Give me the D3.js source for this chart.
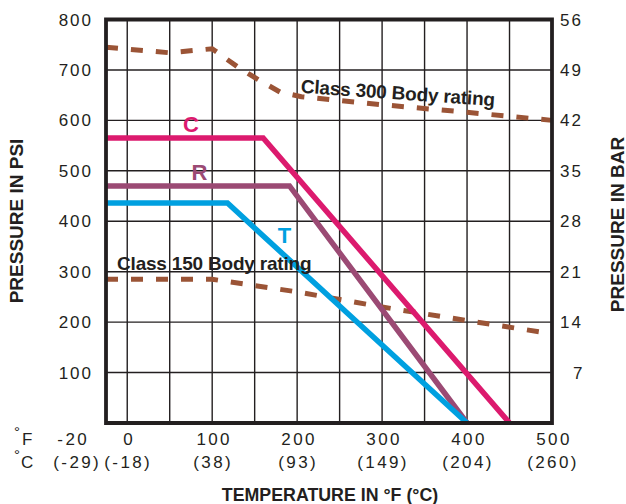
<!DOCTYPE html>
<html><head><meta charset="utf-8">
<script src="https://cdn.jsdelivr.net/npm/d3@7"></script>
<style>
html,body{margin:0;padding:0;background:#fff;}
svg{display:block;}
</style>
</head><body>
<svg id="chart" width="626" height="504"></svg>
<script>
// ---- data ----
const tempTicksF = [0, 100, 200, 300, 400, 500];
const tempTicksC = ["(-18)", "(38)", "(93)", "(149)", "(204)", "(260)"];
const extraTickF = "-20";
const extraTickC = "(-29)";
const psiTicks = [100, 200, 300, 400, 500, 600, 700, 800];
const barTicks = [7, 14, 21, 28, 35, 42, 49, 56];
const gridX = [0, 50, 100, 150, 200, 250, 300, 350, 400, 450];
const gridY = [100, 200, 300, 400, 500, 600, 700];

// seat ratings: [°F, psi]
const seatC = [[-25, 565], [160, 565], [450, 0]];
const seatR = [[-25, 470], [191, 470], [400, 0]];
const seatT = [[-25, 436], [118, 436], [400, 0]];
// body ratings: [°F, psi]
const class300 = [[-25, 745], [50, 734], [100, 742], [130, 706], [155, 680], [180, 656], [205, 647], [300, 631], [400, 616], [500, 600]];
const class150 = [[-25, 285], [100, 285], [200, 260], [300, 230], [400, 203], [500, 177]];

// ---- layout ----
const svg = d3.select("#chart");
const L = 106, R = 552, T = 19.5, B = 423;
const x = d3.scaleLinear().domain([-25, 500]).range([L, R]);
const y = d3.scaleLinear().domain([0, 800]).range([B, T]);
const yBar = d3.scaleLinear().domain([0, 56]).range([B, T]);
const font = "'Liberation Sans', Arial, Helvetica, sans-serif";
const ink = "#231f20";

// grid
svg.append("g").selectAll("line").data(gridX).join("line")
  .attr("x1", d => x(d)).attr("x2", d => x(d)).attr("y1", T).attr("y2", B)
  .attr("stroke", ink).attr("stroke-width", 1.4);
svg.append("g").selectAll("line").data(gridY).join("line")
  .attr("x1", L).attr("x2", R).attr("y1", d => y(d)).attr("y2", d => y(d))
  .attr("stroke", ink).attr("stroke-width", 1.4);

const line = d3.line().x(d => x(d[0])).y(d => y(d[1]));

// body rating dashed lines
[class300, class150].forEach(data => {
  svg.append("path").datum(data).attr("d", line)
    .attr("fill", "none").attr("stroke", "#9b5436").attr("stroke-width", 5)
    .attr("stroke-dasharray", "12,13");
});

// seat lines
[[seatC, "#dc1a6e"], [seatR, "#9b4a74"], [seatT, "#00a0e0"]].forEach(([data, c]) => {
  svg.append("path").datum(data).attr("d", line)
    .attr("fill", "none").attr("stroke", c).attr("stroke-width", 5.5)
    .attr("stroke-linejoin", "miter");
});

// frame
svg.append("path")
  .attr("d", `M${L},${T}H${R}V${B}H${L}Z`)
  .attr("fill", "none").attr("stroke", ink).attr("stroke-width", 3.8);

// left ticks
svg.append("g").selectAll("text").data(psiTicks).join("text")
  .attr("x", 93).attr("y", d => y(d) + 6).attr("text-anchor", "end")
  .attr("font-family", font).attr("font-size", 17).attr("letter-spacing", 2)
  .attr("fill", ink).text(d => d);
// right ticks
svg.append("g").selectAll("text").data(barTicks).join("text")
  .attr("x", 560).attr("y", d => yBar(d) + 6)
  .attr("dx", d => d < 10 ? 13 : 0)
  .attr("font-family", font).attr("font-size", 17).attr("letter-spacing", 2)
  .attr("fill", ink).text(d => d);

// bottom ticks
const gF = svg.append("g").attr("font-family", font).attr("font-size", 17)
  .attr("letter-spacing", 2.4).attr("fill", ink).attr("text-anchor", "middle");
gF.selectAll("text.f").data(tempTicksF).join("text").attr("class", "f")
  .attr("x", d => x(d) + 2).attr("y", 445).text(d => d);
gF.selectAll("text.c").data(tempTicksC).join("text").attr("class", "c")
  .attr("x", (d, i) => x(tempTicksF[i]) + 1).attr("y", 468).text(d => d);
gF.append("text").attr("x", x(-20) - 37).attr("y", 445).text(extraTickF);
gF.append("text").attr("x", x(-20) - 33).attr("y", 468).text(extraTickC);
// unit labels
const gU = svg.append("g").attr("font-family", font).attr("fill", ink);
gU.append("text").attr("x", 14).attr("y", 437).attr("font-size", 15).text("°");
gU.append("text").attr("x", 22).attr("y", 445).attr("font-size", 17).text("F");
gU.append("text").attr("x", 14).attr("y", 460).attr("font-size", 15).text("°");
gU.append("text").attr("x", 21).attr("y", 468).attr("font-size", 17).text("C");

// axis titles
svg.append("text").attr("transform", "translate(23,221) rotate(-90)")
  .attr("text-anchor", "middle").attr("font-family", font).attr("font-weight", "bold")
  .attr("font-size", 19).attr("fill", ink).text("PRESSURE IN BAR".replace("BAR", "PSI"));
svg.append("text").attr("transform", "translate(623.5,224.5) rotate(-90)")
  .attr("text-anchor", "middle").attr("font-family", font).attr("font-weight", "bold")
  .attr("font-size", 19).attr("fill", ink).text("PRESSURE IN BAR");
svg.append("text").attr("x", 330).attr("y", 501)
  .attr("text-anchor", "middle").attr("font-family", font).attr("font-weight", "bold")
  .attr("font-size", 17.8).attr("fill", ink).text("TEMPERATURE IN °F (°C)");

// series labels
const lbl = [["C", 75, 565, "#dc1a6e"], ["R", 85, 470, "#9b4a74"], ["T", 185, 345, "#00a0e0"]];
svg.append("g").selectAll("text").data(lbl).join("text")
  .attr("x", d => x(d[1])).attr("y", d => y(d[2]) - 6)
  .attr("text-anchor", "middle").attr("font-family", font).attr("font-weight", "bold")
  .attr("font-size", 22).attr("fill", d => d[3]).text(d => d[0]);

// body rating labels
svg.append("text").attr("transform", `translate(${x(204)},${y(655)}) rotate(4)`)
  .attr("font-family", font).attr("font-weight", "bold").attr("font-size", 19)
  .attr("letter-spacing", -0.2).attr("fill", ink).text("Class 300 Body rating");
svg.append("text").attr("x", x(-12)).attr("y", y(303))
  .attr("font-family", font).attr("font-weight", "bold").attr("font-size", 19)
  .attr("letter-spacing", -0.2).attr("fill", ink).text("Class 150 Body rating");
</script>
</body></html>
